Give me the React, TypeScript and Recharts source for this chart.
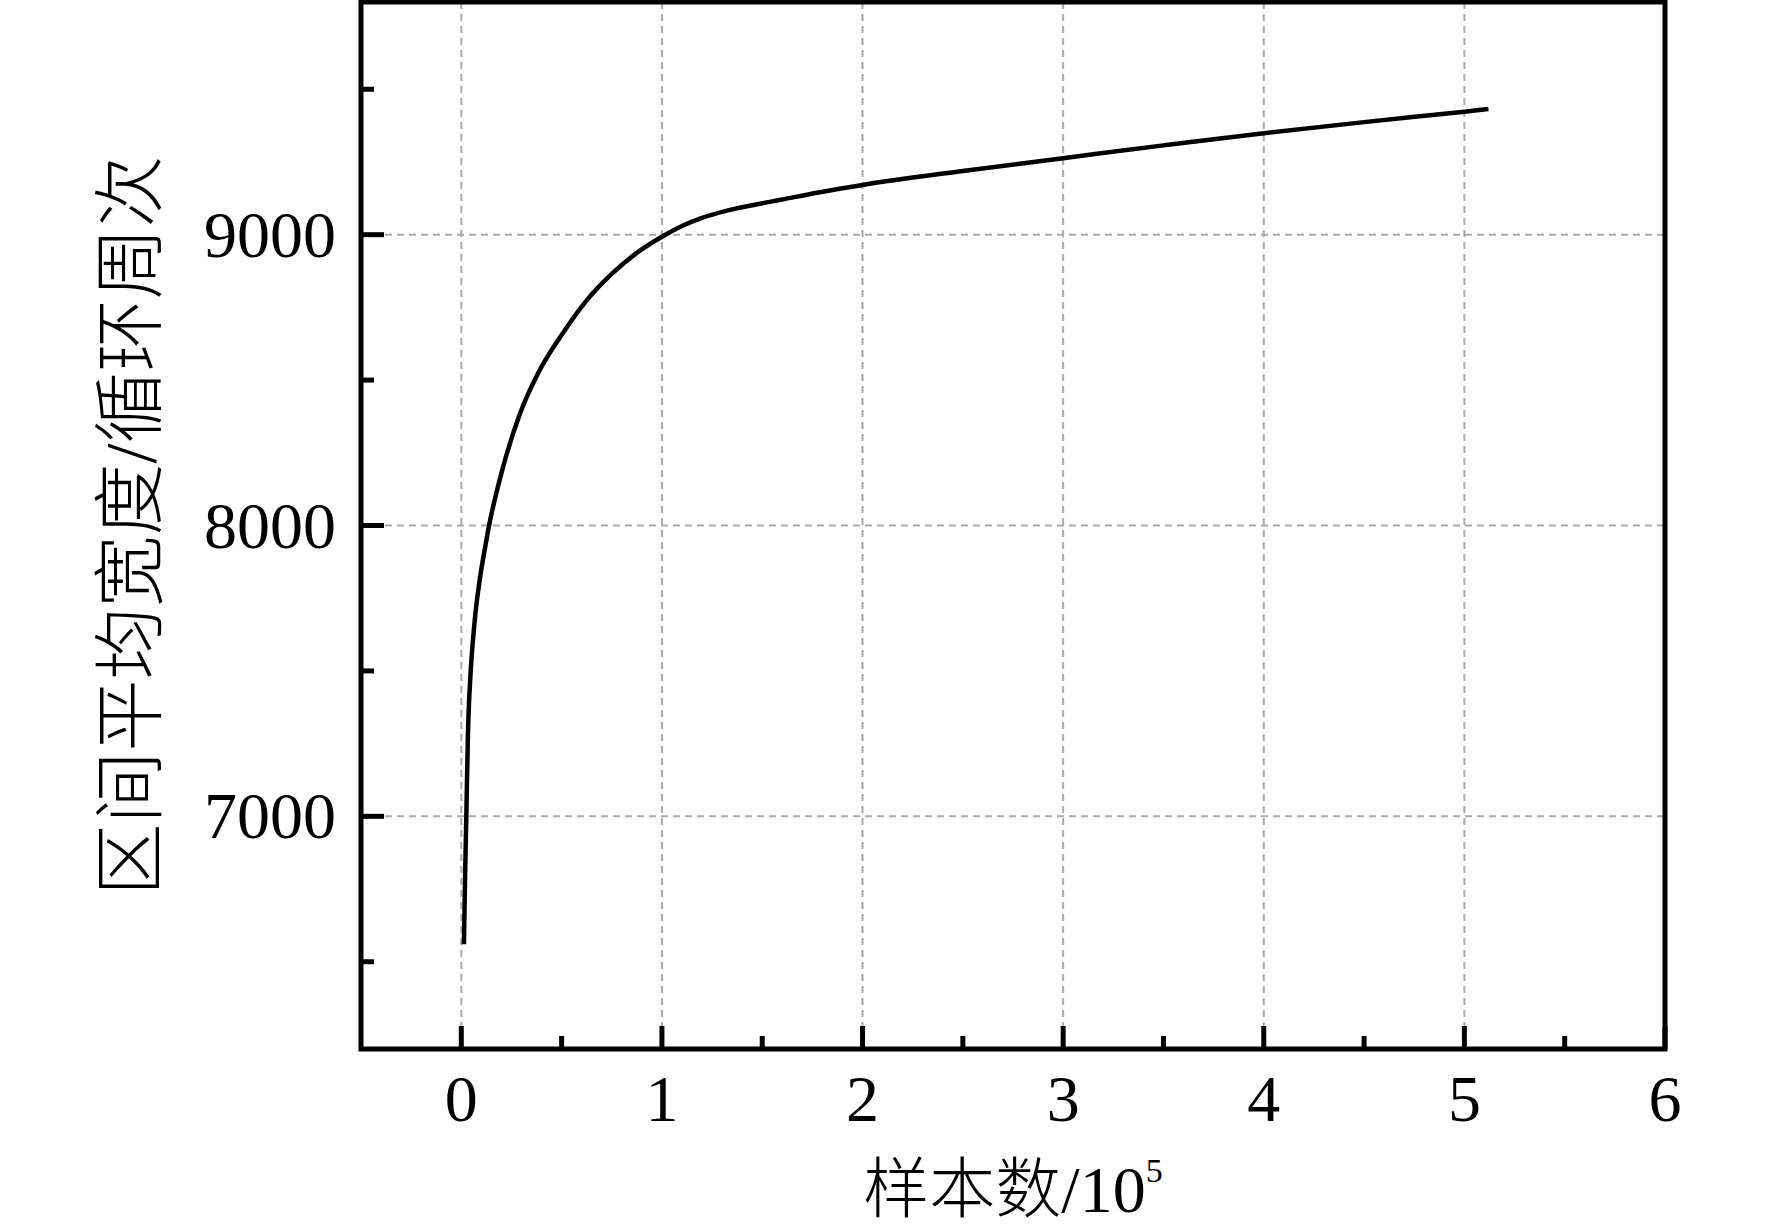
import { CartesianGrid, Line, LineChart, ReferenceArea, XAxis, YAxis } from "recharts";

// sample count (x 10^5) and mean interval width (cycles)
const sampleCount = [
  0.013, 0.019, 0.025, 0.033, 0.046, 0.058, 0.07, 0.09, 0.12, 0.14, 0.2, 0.29,
  0.38, 0.5, 0.62, 0.75, 0.88, 1.0, 1.1, 1.2, 1.32, 1.45, 1.6, 1.78, 2.0, 2.5,
  3.0, 3.5, 4.0, 4.5, 5.0, 5.12,
];
const meanWidth = [
  6560, 6800, 7000, 7280, 7490, 7605, 7695, 7805, 7930, 8005, 8180, 8380, 8520,
  8655, 8770, 8865, 8940, 8993, 9030, 9058, 9082, 9101, 9121, 9145, 9171, 9219,
  9263, 9307, 9349, 9387, 9423, 9432,
];

const xTicks = [0, 0.5, 1, 1.5, 2, 2.5, 3, 3.5, 4, 4.5, 5, 5.5, 6];
const xMajor = [0, 1, 2, 3, 4, 5, 6];
const yTicks = [6500, 7000, 7500, 8000, 8500, 9000, 9500];
const yMajor = [7000, 8000, 9000];
const xGrid = [0, 1, 2, 3, 4, 5];
const yGrid = [7000, 8000, 9000];

const data = sampleCount.map((x, i) => ({ x, y: meanWidth[i] }));

const serif = "'Liberation Serif', 'Times New Roman', serif";
const cjk = "'Liberation Serif', 'Noto Sans CJK SC', serif";

const XTick = (props: any) => {
  const { x, y, payload } = props;
  const major = xMajor.includes(payload.value);
  return (
    <g>
      <line x1={x} x2={x} y1={y} y2={y - (major ? 23 : 13)} stroke="#000" strokeWidth={5} />
      {major && (
        <text x={x} y={y + 72} textAnchor="middle" fontSize={66} fontFamily={serif} fill="#000">
          {payload.value}
        </text>
      )}
    </g>
  );
};

const YTick = (props: any) => {
  const { x, y, payload } = props;
  const major = yMajor.includes(payload.value);
  return (
    <g>
      <line x1={x} x2={x + (major ? 23 : 13)} y1={y} y2={y} stroke="#000" strokeWidth={5} />
      {major && (
        <text x={x - 25} y={y + 22} textAnchor="end" fontSize={66} fontFamily={serif} fill="#000">
          {payload.value}
        </text>
      )}
    </g>
  );
};

const YTitle = (props: any) => {
  const vb = props.viewBox || { x: 0, y: 2, width: 361, height: 1047 };
  const cx = vb.x + 131;
  const cy = vb.y + vb.height / 2;
  return (
    <text
      x={cx}
      y={cy}
      transform={`rotate(-90 ${cx} ${cy})`}
      textAnchor="middle"
      dominantBaseline="central"
      fontSize={72}
      fontFamily={cjk}
      fontWeight={300}
      fill="#000"
    >
      区间平均宽度/循环周次
    </text>
  );
};

const XTitle = (props: any) => {
  const vb = props.viewBox || { x: 361, y: 1049, width: 1304, height: 181 };
  const cx = vb.x + vb.width / 2;
  const by = vb.y + 163;
  return (
    <text x={cx} y={by} textAnchor="middle" fontSize={66} fontFamily={cjk} fontWeight={300} fill="#000">
      样本数/10
      <tspan fontSize={34} dy={-30}>
        5
      </tspan>
    </text>
  );
};

export default function App() {
  return (
    <div style={{ width: 1772, height: 1230, background: "#fff" }}>
      <style>{"body{margin:0;background:#fff}"}</style>
      <LineChart
        width={1772}
        height={1230}
        data={data}
        margin={{ top: 2, right: 107, bottom: 0, left: 0 }}
      >
        <CartesianGrid
          horizontalValues={yGrid}
          verticalValues={xGrid}
          stroke="#aaaaaa"
          strokeWidth={2}
          strokeDasharray="7 5"
        />
        <XAxis
          dataKey="x"
          type="number"
          domain={[-0.5, 6]}
          ticks={xTicks}
          interval={0}
          height={181}
          tickSize={0}
          tickMargin={0}
          tickLine={false}
          axisLine={false}
          tick={XTick}
          label={XTitle}
        />
        <YAxis
          type="number"
          domain={[6200, 9800]}
          ticks={yTicks}
          interval={0}
          width={361}
          tickSize={0}
          tickMargin={0}
          tickLine={false}
          axisLine={false}
          tick={YTick}
          label={YTitle}
        />
        <ReferenceArea
          x1={-0.5}
          x2={6}
          y1={6200}
          y2={9800}
          fill="none"
          stroke="#000"
          strokeWidth={5}
          fillOpacity={0}
        />
        <Line
          dataKey="y"
          type="monotone"
          stroke="#000"
          strokeWidth={4.5}
          dot={false}
          activeDot={false}
          isAnimationActive={false}
        />
      </LineChart>
    </div>
  );
}
